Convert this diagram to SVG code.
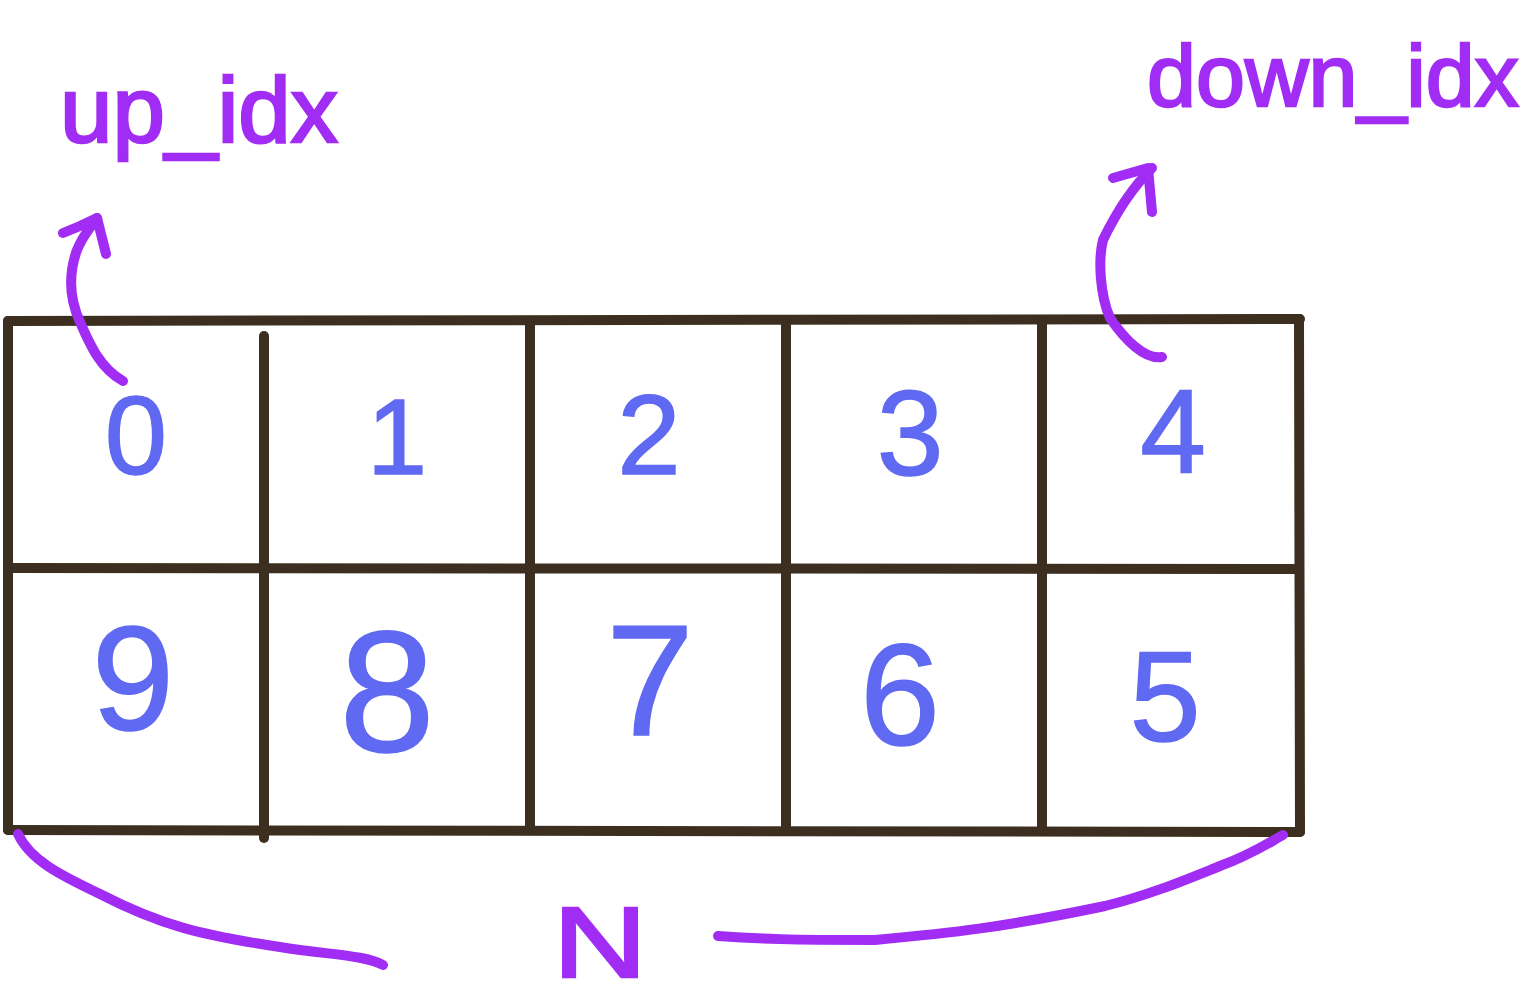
<svg xmlns="http://www.w3.org/2000/svg" width="1529" height="1000" viewBox="0 0 1529 1000">
<style>
.grid{stroke:#3c2f1f;stroke-width:10;stroke-linecap:round;fill:none}
.pen{stroke:#a12cf4;stroke-width:10;stroke-linecap:round;stroke-linejoin:round;fill:none}
.num{font-family:"Liberation Sans",Arial,sans-serif;fill:#5f69f1;stroke:#5f69f1;stroke-width:1.5;text-anchor:middle}
.lbl{font-family:"Liberation Sans",Arial,sans-serif;fill:#a12cf4;stroke:#a12cf4;stroke-width:2.5}
</style>
<rect width="1529" height="1000" fill="#ffffff"/>
<g id="grid">
<line class="grid" x1="8" y1="321" x2="1300" y2="319"/>
<line class="grid" x1="8" y1="568" x2="1296" y2="569"/>
<line class="grid" x1="8" y1="830" x2="1300" y2="832"/>
<line class="grid" x1="8" y1="321" x2="8" y2="830"/>
<line class="grid" x1="264" y1="336" x2="264" y2="838"/>
<line class="grid" x1="530" y1="323" x2="530" y2="828"/>
<line class="grid" x1="786" y1="323" x2="786" y2="830"/>
<line class="grid" x1="1042" y1="323" x2="1042" y2="828"/>
<line class="grid" x1="1299" y1="319" x2="1300" y2="832"/>
</g>
<g id="cell0"><text class="num" x="136" y="474" font-size="112">0</text></g>
<g id="cell1"><text class="num" x="397" y="474" font-size="108">1</text></g>
<g id="cell2"><text class="num" x="649" y="474" font-size="114">2</text></g>
<g id="cell3"><text class="num" x="910" y="475" font-size="120">3</text></g>
<g id="cell4"><text class="num" x="1173" y="473" font-size="118">4</text></g>
<g id="cell5"><text class="num" x="1165" y="741" font-size="128">5</text></g>
<g id="cell6"><text class="num" x="900" y="745" font-size="144">6</text></g>
<g id="cell7"><text class="num" x="650" y="735" font-size="158">7</text></g>
<g id="cell8"><text class="num" x="387" y="751" font-size="172">8</text></g>
<g id="cell9"><text class="num" x="133" y="730" font-size="148">9</text></g>
<g id="label-up"><text class="lbl" x="60" y="142" font-size="92" textLength="278" lengthAdjust="spacingAndGlyphs">up_idx</text></g>
<g id="label-down"><text class="lbl" x="1147" y="106" font-size="88">down_idx</text></g>
<g id="label-n"><text class="lbl" x="553" y="977" font-size="100" stroke-width="0" textLength="94" lengthAdjust="spacingAndGlyphs">N</text></g>
<g id="connectors">
<path class="pen" d="M123,381 C100,368 90,345 80,322 C70,300 68,275 77,250 C83,235 90,228 97,218"/>
<path class="pen" d="M63,233 L80,226 L97,218 L106,254"/>
<path class="pen" d="M1162,357 C1145,360 1125,340 1110,318 C1100,295 1098,260 1103,240 C1115,215 1130,190 1152,168"/>
<path class="pen" d="M1113,178 L1148,168 L1152,212"/>
<path class="pen" d="M18,834 C30,860 60,875 100,894 C160,925 200,935 280,947 C330,955 365,955 383,965"/>
<path class="pen" d="M718,936 C760,939 790,940 875,940 C950,933 1000,928 1105,906 C1150,895 1190,878 1220,866 C1250,855 1265,845 1283,835"/>
</g>
</svg>
